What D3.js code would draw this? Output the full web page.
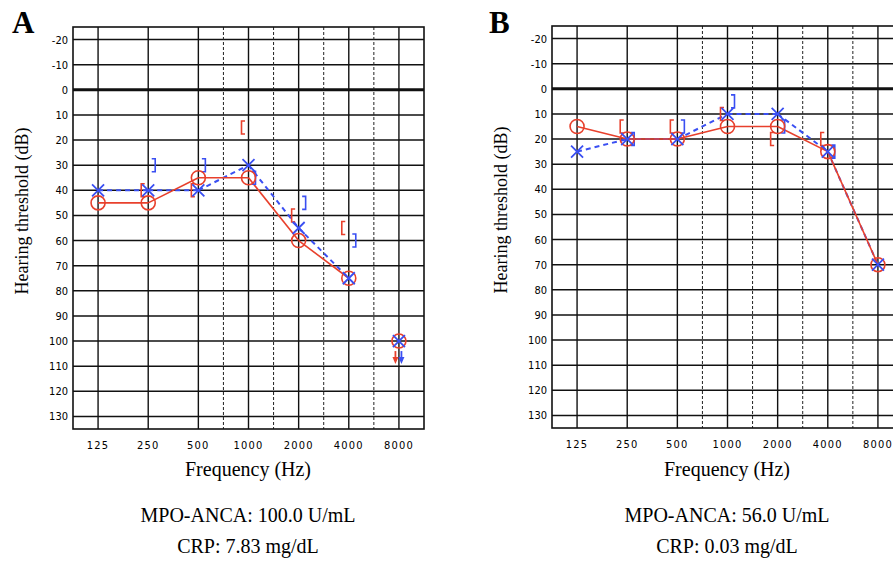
<!DOCTYPE html>
<html>
<head>
<meta charset="utf-8">
<script src="https://cdn.jsdelivr.net/npm/d3@7"></script>
<style>
  html, body { margin: 0; padding: 0; background: #fff; }
  svg { display: block; }
  .tick-lab { font-family: "DejaVu Sans Condensed", "Liberation Sans Narrow", "Roboto Condensed", "DejaVu Sans", sans-serif; font-size: 11px; fill: #000; }
  .serif { font-family: "Liberation Serif", "Times New Roman", serif; fill: #000; }
</style>
</head>
<body>
<svg id="chart" width="893" height="566"></svg>
<script>
// ---- data ----
const frequencies = [125, 250, 500, 1000, 2000, 4000, 8000];
const freqLabels = ["125", "250", "500", "1000", "2000", "4000", "8000"];
const halfOctaves = [750, 1500, 3000, 6000];
const dbTicks = [-20, -10, 0, 10, 20, 30, 40, 50, 60, 70, 80, 90, 100, 110, 120, 130];

// Panel A
const A_rightAir  = [45, 45, 35, 35, 60, 75, 100];
const A_leftAir   = [40, 40, 40, 30, 55, 75, 100];
const A_rightBone = [null, 40, 40, 15, 50, 55, null];
const A_leftBone  = [null, 30, 30, 35, 45, 60, null];
const A_noResp    = [false, false, false, false, false, false, true];

// Panel B
const B_rightAir  = [15, 20, 20, 15, 15, 25, 70];
const B_leftAir   = [25, 20, 20, 10, 10, 25, 70];
const B_rightBone = [null, 15, 15, 10, 20, 20, null];
const B_leftBone  = [null, 20, 15, 5, 15, 25, null];
const B_noResp    = [false, false, false, false, false, false, false];

const panels = [
  { letter: "A", left: 73, top: 27, bottom: 429, rightAir: A_rightAir, leftAir: A_leftAir,
    rightBone: A_rightBone, leftBone: A_leftBone, noResp: A_noResp,
    mpo: "MPO-ANCA: 100.0 U/mL", crp: "CRP: 7.83 mg/dL", letterX: 12, ylabX: 29 },
  { letter: "B", left: 552, top: 26, bottom: 428, rightAir: B_rightAir, leftAir: B_leftAir,
    rightBone: B_rightBone, leftBone: B_leftBone, noResp: B_noResp,
    mpo: "MPO-ANCA: 56.0 U/mL", crp: "CRP: 0.03 mg/dL", letterX: 489, ylabX: 508 }
];

const RED = "#e8402c";
const BLUE = "#3a4ff2";
const svg = d3.select("#chart");

panels.forEach(p => {
  const width = 351;
  const x = d3.scaleLog().base(2)
    .domain([125 / Math.SQRT2, 8000 * Math.SQRT2])
    .range([p.left, p.left + width]);
  const y = d3.scaleLinear().domain([-25, 135]).range([p.top, p.bottom]);
  // audiogram convention: half-octave lines drawn midway between octaves
  const xHalf = f => x(f / 1.5 * Math.SQRT2);
  const g = svg.append("g");

  // horizontal grid
  g.selectAll("line.h").data(dbTicks).join("line")
    .attr("x1", p.left).attr("x2", p.left + width)
    .attr("y1", d => y(d)).attr("y2", d => y(d))
    .attr("stroke", "#111").attr("stroke-width", d => d === 0 ? 3 : 1.4);
  // vertical grid (octaves)
  g.selectAll("line.v").data(frequencies).join("line")
    .attr("x1", d => x(d)).attr("x2", d => x(d))
    .attr("y1", p.top).attr("y2", p.bottom)
    .attr("stroke", "#111").attr("stroke-width", 1.4);
  // half octave dashed
  g.selectAll("line.hv").data(halfOctaves).join("line")
    .attr("x1", d => xHalf(d)).attr("x2", d => xHalf(d))
    .attr("y1", p.top).attr("y2", p.bottom)
    .attr("stroke", "#222").attr("stroke-width", 1).attr("stroke-dasharray", "3,2");
  // border
  g.append("rect").attr("x", p.left).attr("y", p.top)
    .attr("width", width).attr("height", p.bottom - p.top)
    .attr("fill", "none").attr("stroke", "#111").attr("stroke-width", 1.6);

  // y tick labels
  g.selectAll("text.yt").data(dbTicks).join("text")
    .attr("class", "tick-lab")
    .attr("x", p.left - 5).attr("y", d => y(d) + 4)
    .attr("text-anchor", "end")
    .text(d => d < 0 ? "-" + Math.abs(d) : d);
  // x tick labels
  g.selectAll("text.xt").data(frequencies).join("text")
    .attr("class", "tick-lab")
    .attr("x", d => x(d)).attr("y", p.bottom + 20)
    .attr("text-anchor", "middle")
    .attr("letter-spacing", "1.2px")
    .text((d, i) => freqLabels[i]);

  // axis titles
  g.append("text").attr("class", "serif")
    .attr("transform", `translate(${p.ylabX - 1},${(p.top + p.bottom) / 2 - 17}) rotate(-90)`)
    .attr("text-anchor", "middle").attr("font-size", 18)
    .text("Hearing threshold (dB)");
  const cx = p.left + 175;
  g.append("text").attr("class", "serif").attr("x", cx).attr("y", 476)
    .attr("text-anchor", "middle").attr("font-size", 20).text("Frequency (Hz)");
  g.append("text").attr("class", "serif").attr("x", cx).attr("y", 522)
    .attr("text-anchor", "middle").attr("font-size", 20).text(p.mpo);
  g.append("text").attr("class", "serif").attr("x", cx).attr("y", 553)
    .attr("text-anchor", "middle").attr("font-size", 20).text(p.crp);
  // panel letter
  svg.append("text").attr("class", "serif").attr("x", p.letterX).attr("y", 33)
    .attr("font-size", 31).attr("font-weight", "bold").text(p.letter);

  // connecting lines
  function segs(vals) {
    const s = [];
    for (let i = 0; i < vals.length - 1; i++) {
      if (vals[i] != null && vals[i + 1] != null && !p.noResp[i + 1])
        s.push([[frequencies[i], vals[i]], [frequencies[i + 1], vals[i + 1]]]);
    }
    return s;
  }
  const line = d3.line().x(d => x(d[0])).y(d => y(d[1]));
  g.selectAll("path.lb").data(segs(p.leftAir)).join("path")
    .attr("d", line).attr("fill", "none").attr("stroke", BLUE)
    .attr("stroke-width", 2).attr("stroke-dasharray", "5,4");
  g.selectAll("path.lr").data(segs(p.rightAir)).join("path")
    .attr("d", line).attr("fill", "none").attr("stroke", RED).attr("stroke-width", 1.6);

  // bone brackets
  const rb = frequencies.map((f, i) => ({ f, v: p.rightBone[i] })).filter(d => d.v != null);
  g.selectAll("path.rbk").data(rb).join("path")
    .attr("d", d => { const cx0 = x(d.f) - 7, cy = y(d.v);
      return `M${cx0 + 3.5},${cy - 6.5}H${cx0}V${cy + 6.5}H${cx0 + 3.5}`; })
    .attr("fill", "none").attr("stroke", RED).attr("stroke-width", 1.6);
  const lb = frequencies.map((f, i) => ({ f, v: p.leftBone[i] })).filter(d => d.v != null);
  g.selectAll("path.lbk").data(lb).join("path")
    .attr("d", d => { const cx0 = x(d.f) + 7, cy = y(d.v);
      return `M${cx0 - 3.5},${cy - 6.5}H${cx0}V${cy + 6.5}H${cx0 - 3.5}`; })
    .attr("fill", "none").attr("stroke", BLUE).attr("stroke-width", 1.6);

  // right air: circles
  const ra = frequencies.map((f, i) => ({ f, v: p.rightAir[i] }));
  g.selectAll("circle.ra").data(ra).join("circle")
    .attr("cx", d => x(d.f)).attr("cy", d => y(d.v)).attr("r", 7)
    .attr("fill", "none").attr("stroke", RED).attr("stroke-width", 1.6);
  // left air: crosses
  const la = frequencies.map((f, i) => ({ f, v: p.leftAir[i] }));
  g.selectAll("path.la").data(la).join("path")
    .attr("d", d => { const a = x(d.f), b = y(d.v), s = 6;
      return `M${a - s},${b - s}L${a + s},${b + s}M${a - s},${b + s}L${a + s},${b - s}`; })
    .attr("fill", "none").attr("stroke", BLUE).attr("stroke-width", 1.8);

  // no-response arrows
  frequencies.forEach((f, i) => {
    if (!p.noResp[i]) return;
    [[p.rightAir[i], RED, -3.5], [p.leftAir[i], BLUE, 2.5]].forEach(([v, c, dx]) => {
      const ax = x(f) + dx, ay = y(v);
      g.append("line").attr("x1", ax).attr("x2", ax).attr("y1", ay + 10).attr("y2", ay + 20)
        .attr("stroke", c).attr("stroke-width", 1.8);
      g.append("path").attr("d", `M${ax - 3},${ay + 16}L${ax + 3},${ay + 16}L${ax},${ay + 23}Z`)
        .attr("fill", c);
    });
  });
});
</script>
</body>
</html>
